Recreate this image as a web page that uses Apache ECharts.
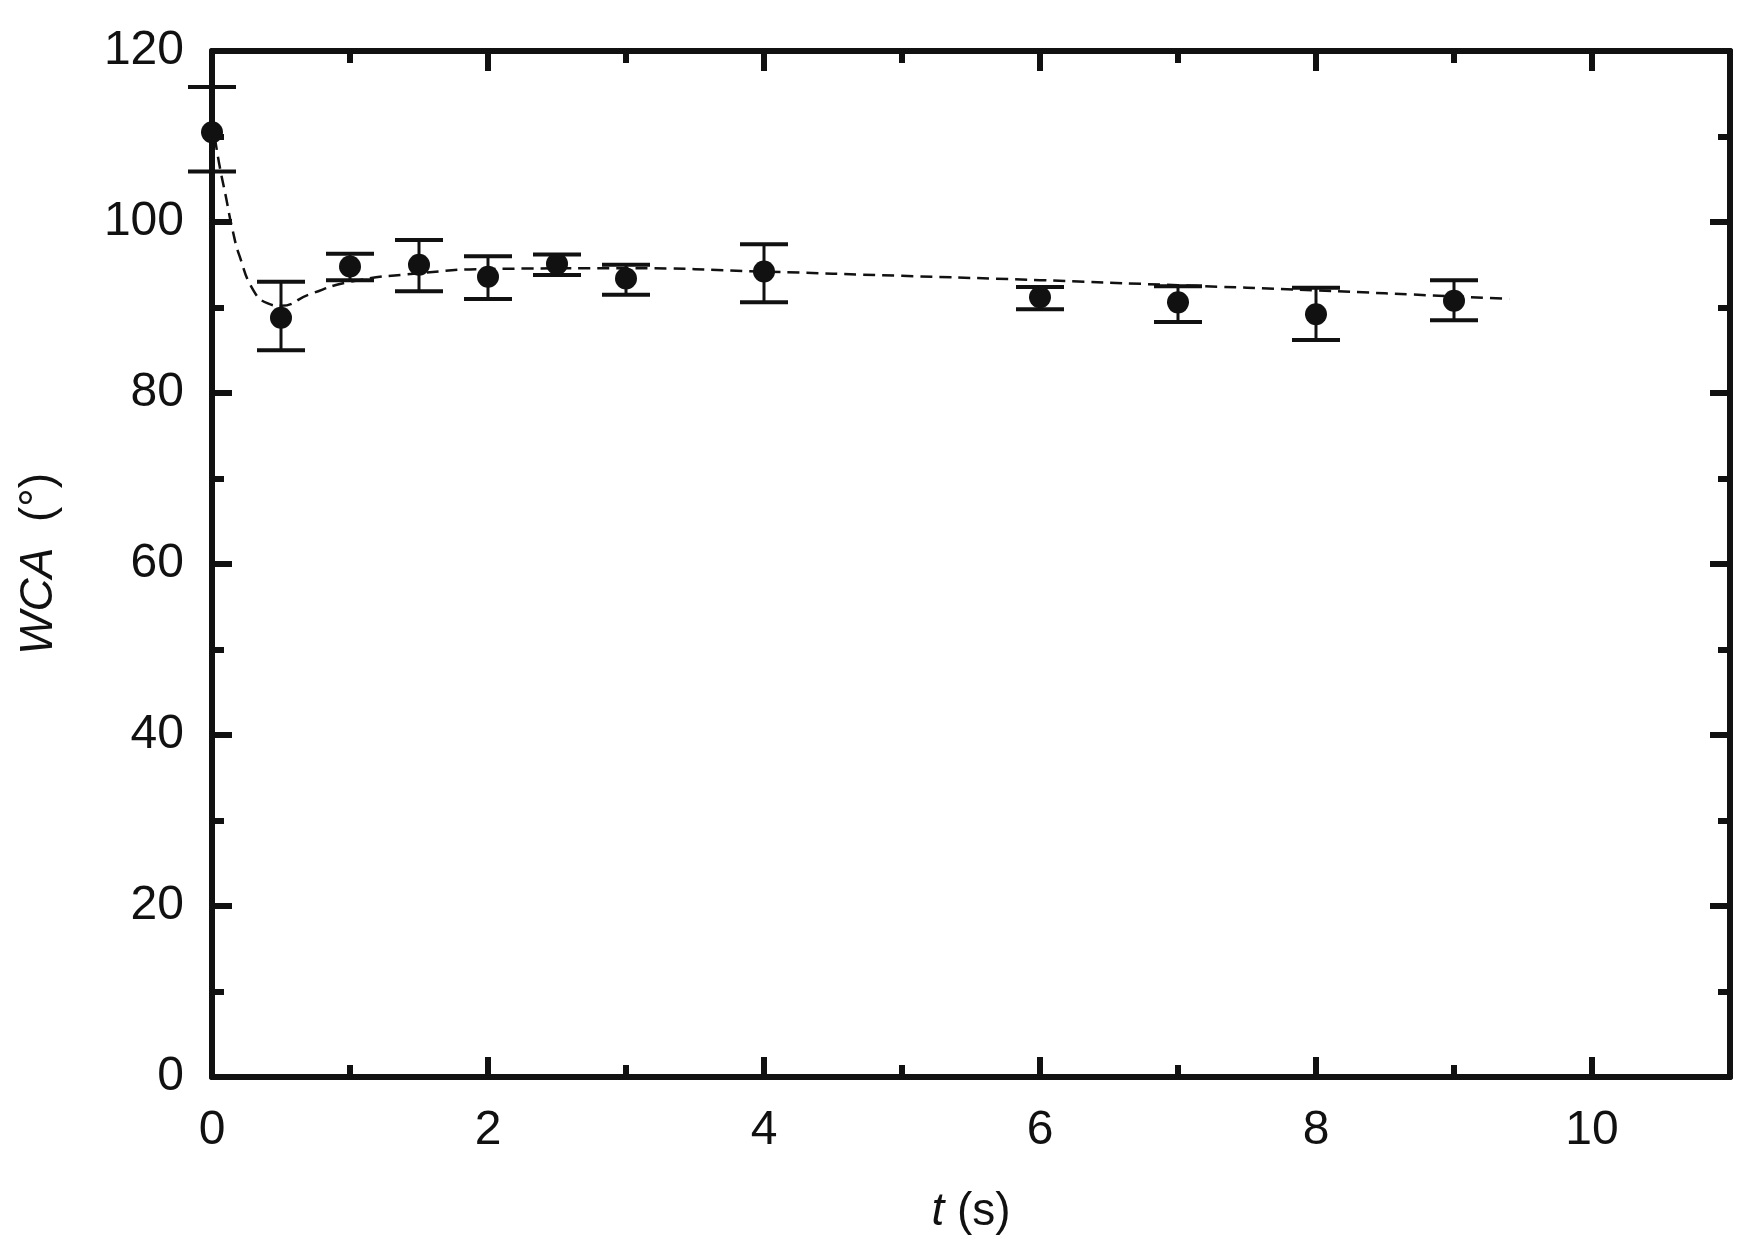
<!DOCTYPE html>
<html>
<head>
<meta charset="utf-8">
<script src="https://cdn.jsdelivr.net/npm/echarts@6/dist/echarts.min.js"></script>
<style>html,body{margin:0;background:#fff}#main{width:1756px;height:1251px}</style>
</head>
<body>
<div id="main"></div>
<script>
var tData = [0, 0.5, 1, 1.5, 2, 2.5, 3, 4, 6, 7, 8, 9];
var wcaData = [110.5, 88.8, 94.8, 95.0, 93.6, 95.1, 93.4, 94.2, 91.2, 90.6, 89.2, 90.8];
var errHigh = [115.8, 93.0, 96.3, 97.9, 96.0, 96.2, 95.0, 97.4, 92.4, 92.5, 92.3, 93.2];
var errLow = [105.9, 85.0, 93.2, 91.9, 91.0, 93.8, 91.5, 90.6, 89.8, 88.3, 86.2, 88.5];
var fitT = [0, 0.05, 0.1, 0.15, 0.2, 0.3, 0.4, 0.5, 0.7, 1, 1.5, 2, 3, 4, 5, 6, 7, 8, 9, 9.4];
var fitY = [112, 107, 103, 99, 96, 92, 90.5, 90.2, 91.5, 93, 94, 94.5, 94.6, 94.2, 93.7, 93.2, 92.6, 92, 91.3, 91];

var myChart = echarts.init(document.getElementById('main'));
var font = 'Liberation Sans';
var axisCommon = {
    axisLine: { show: true, onZero: false, lineStyle: { color: '#111', width: 6 } },
    axisTick: { show: true, inside: true, length: 20, lineStyle: { color: '#111', width: 6 } },
    minorTick: { show: true, splitNumber: 2, length: 12, lineStyle: { color: '#111', width: 6 } },
    splitLine: { show: false }
};
var option = {
    animation: false,
    grid: { left: 212, right: 26, top: 51, bottom: 174 },
    xAxis: [
        Object.assign({
            type: 'value', min: 0, max: 11, interval: 2,
            axisLabel: { fontFamily: font, fontSize: 48, color: '#111', margin: 30,
                formatter: function (v) { return v > 10 ? '' : v; } },
            name: '{i|t} (s)', nameLocation: 'middle', nameGap: 112,
            nameTextStyle: { fontFamily: font, fontSize: 46, color: '#111',
                rich: { i: { fontStyle: 'italic', fontFamily: font, fontSize: 46 } } }
        }, axisCommon),
        Object.assign({
            type: 'value', min: 0, max: 11, interval: 2, position: 'top',
            axisLabel: { show: false }
        }, axisCommon)
    ],
    yAxis: [
        Object.assign({
            type: 'value', min: 0, max: 120, interval: 20,
            axisLabel: { fontFamily: font, fontSize: 48, color: '#111', margin: 28 },
            name: '{i|WCA}  (°)', nameLocation: 'middle', nameGap: 150,
            nameTextStyle: { fontFamily: font, fontSize: 46, color: '#111',
                rich: { i: { fontStyle: 'italic', fontFamily: font, fontSize: 46 } } }
        }, axisCommon),
        Object.assign({
            type: 'value', min: 0, max: 120, interval: 20, position: 'right',
            axisLabel: { show: false }
        }, axisCommon)
    ],
    series: [
        {
            type: 'line', data: fitT.map(function (t, i) { return [t, fitY[i]]; }),
            smooth: true, symbol: 'none',
            lineStyle: { color: '#111', width: 2.5, type: [12, 7] }, z: 2
        },
        {
            type: 'custom',
            data: tData.map(function (t, i) { return [t, errLow[i], errHigh[i]]; }),
            renderItem: function (params, api) {
                var lo = api.coord([api.value(0), api.value(1)]);
                var hi = api.coord([api.value(0), api.value(2)]);
                var w = 24;
                var st = { stroke: '#111', lineWidth: 3 };
                return { type: 'group', children: [
                    { type: 'line', shape: { x1: hi[0], y1: hi[1], x2: lo[0], y2: lo[1] }, style: st },
                    { type: 'line', shape: { x1: hi[0] - w, y1: hi[1], x2: hi[0] + w, y2: hi[1] }, style: { stroke: '#111', lineWidth: 4 } },
                    { type: 'line', shape: { x1: lo[0] - w, y1: lo[1], x2: lo[0] + w, y2: lo[1] }, style: { stroke: '#111', lineWidth: 4 } }
                ] };
            },
            z: 3
        },
        {
            type: 'scatter', data: tData.map(function (t, i) { return [t, wcaData[i]]; }),
            symbol: 'circle', symbolSize: 22, itemStyle: { color: '#111', opacity: 1 }, z: 4
        }
    ]
};
myChart.setOption(option);
</script>
</body>
</html>
